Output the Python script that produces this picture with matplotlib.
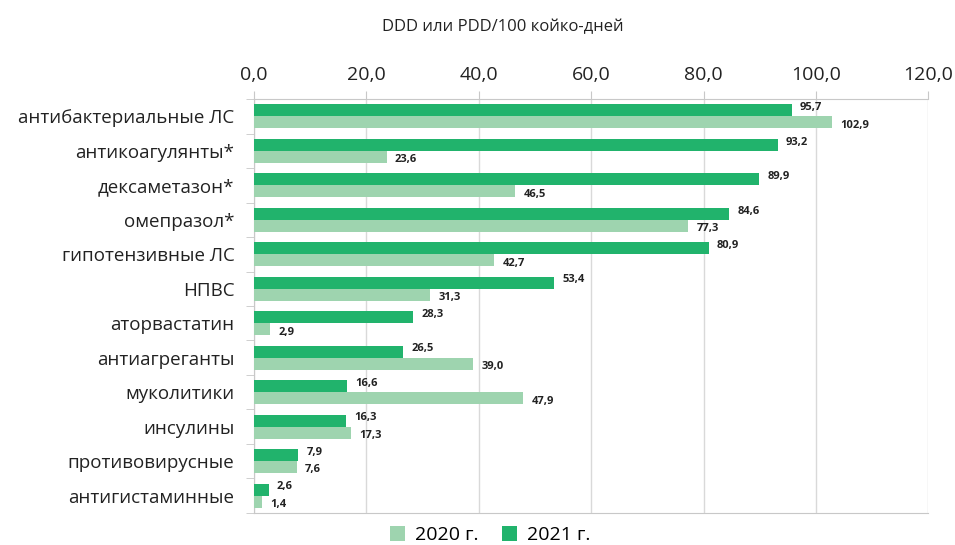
import numpy as np
import matplotlib.pyplot as plt

plt.rcParams['font.family'] = ['Open Sans', 'DejaVu Sans']

categories = ['антибактериальные ЛС', 'антикоагулянты*', 'дексаметазон*', 'омепразол*',
              'гипотензивные ЛС', 'НПВС', 'аторвастатин', 'антиагреганты',
              'муколитики', 'инсулины', 'противовирусные', 'антигистаминные']
values_2021 = [95.7, 93.2, 89.9, 84.6, 80.9, 53.4, 28.3, 26.5, 16.6, 16.3, 7.9, 2.6]
values_2020 = [102.9, 23.6, 46.5, 77.3, 42.7, 31.3, 2.9, 39.0, 47.9, 17.3, 7.6, 1.4]
xticks = [0, 20, 40, 60, 80, 100, 120]

dark = '#21B36C'
light = '#9ED4AF'
grey = '#c8c8c8'
text_c = '#222222'

fig = plt.figure(figsize=(9.55, 5.45), dpi=100)
ax = fig.add_axes([0.266, 0.059, 0.706, 0.759])

y = np.arange(len(categories))
h = 0.35
ax.barh(y - h / 2, values_2021, height=h, color=dark, label='2021 г.', zorder=3)
ax.barh(y + h / 2, values_2020, height=h, color=light, label='2020 г.', zorder=3)

fmt = lambda v: f'{v:.1f}'.replace('.', ',')
for yi, v in zip(y, values_2021):
    ax.annotate(fmt(v), (v, yi - h / 2), xytext=(6, 2), textcoords='offset points',
                ha='left', va='center', fontsize=8, fontweight='bold', color=text_c)
for yi, v in zip(y, values_2020):
    ax.annotate(fmt(v), (v, yi + h / 2), xytext=(6, -2), textcoords='offset points',
                ha='left', va='center', fontsize=8, fontweight='bold', color=text_c)

ax.set_xlim(0, 120)
ax.set_ylim(len(categories) - 0.5, -0.5)
ax.xaxis.tick_top()
ax.set_xticks(xticks)
ax.set_xticklabels([fmt(t) for t in xticks], fontsize=14, color=text_c)
ax.tick_params(axis='x', length=6, color=grey, pad=5)
fig.text(0.527, 0.95, 'DDD или PDD/100 койко-дней', ha='center', va='center',
         fontsize=12, color=text_c)

ax.set_yticks(y)
ax.set_yticklabels(categories, fontsize=13.5, color=text_c)
ax.set_yticks(np.arange(len(categories) + 1) - 0.5, minor=True)
ax.tick_params(axis='y', which='major', length=0, pad=14)
ax.tick_params(axis='y', which='minor', length=6, color=grey)

ax.grid(axis='x', color='#d9d9d9', linewidth=1, zorder=0)
ax.spines['right'].set_visible(False)
for s in ['top', 'left', 'bottom']:
    ax.spines[s].set_color(grey)

handles, labels = ax.get_legend_handles_labels()
fig.legend(handles[::-1], labels[::-1], loc='lower center', bbox_to_anchor=(0.513, -0.03),
           ncol=2, frameon=False, fontsize=14, handlelength=0.8, handleheight=0.8,
           columnspacing=1.2, handletextpad=0.5)

fig.savefig('out.png', dpi=100)
